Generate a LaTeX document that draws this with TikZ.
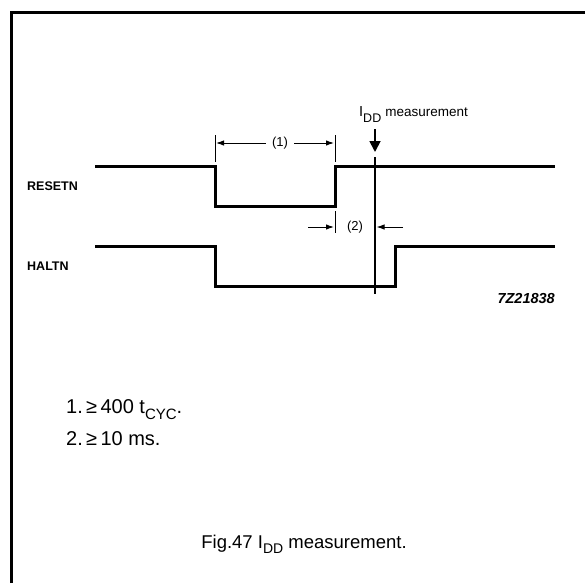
\documentclass[tikz,border=0pt]{standalone}
\usepackage{fontspec}
\setmainfont{Liberation Sans}
\usetikzlibrary{arrows.meta}
\tikzset{
  wave/.style={line width=3pt, line join=miter},
  dim/.style={line width=1pt, -{Latex[length=8pt,width=5.5pt]}},
  ext/.style={line width=0.9pt},
  sig/.style={font=\fontsize{12.5}{14}\selectfont\bfseries, anchor=base west, inner sep=0pt},
  note/.style={font=\fontsize{20}{24}\selectfont, anchor=base west, inner sep=0pt},
  lbl/.style={font=\fontsize{13}{15}\selectfont, inner sep=1pt}
}
\begin{document}
\begin{tikzpicture}[x=1pt,y=-1pt]
\useasboundingbox (0,0) rectangle (585,583);
% frame
\draw[line width=2.2pt] (11.5,583) -- (11.5,12.5) -- (585,12.5);
% waveforms
\draw[wave] (95,166) -- (215,166) -- (215,206) -- (335,206) -- (335,166) -- (555,166);
\draw[wave] (95,246) -- (215,246) -- (215,286) -- (395,286) -- (395,246) -- (555,246);
% labels
\node[sig] (rst) at (27,190) {RESETN};
\node[sig] (hlt) at (27,270) {HALTN};
% measurement line
\coordinate (mt) at (375,157);
\coordinate (mb) at (375,294);
\draw[line width=1.2pt] (mt) -- (mb);
% IDD arrow
\node[inner sep=0pt, anchor=base west] (idd) at (359,117)
  {\fontsize{14.5}{16}\selectfont I\raisebox{-0.4em}{\fontsize{12.5}{14}\selectfont DD} \fontsize{13.5}{15}\selectfont measurement};
\coordinate (at) at (375,129);
\coordinate (ah) at (375,152);
\draw[line width=1.8pt, -{Triangle[length=11pt,width=11pt]}] (at) -- (ah);
% dimension (1)
\coordinate (e1a) at (215,135); \coordinate (e1b) at (215,162);
\coordinate (e2a) at (335,135); \coordinate (e2b) at (335,162);
\draw[ext] (e1a) -- (e1b);
\draw[ext] (e2a) -- (e2b);
\node[lbl] (d1) at (280,143) {(1)};
\draw[dim] (d1.west) ++(-5,0) coordinate (d1l) -- (216,143);
\draw[dim] (d1.east) ++(5,0) coordinate (d1r) -- (334,143);
% dimension (2)
\coordinate (e3a) at (335,211); \coordinate (e3b) at (335,233);
\draw[ext] (e3a) -- (e3b);
\node[lbl] (d2) at (355,227) {(2)};
\coordinate (d2l) at (308,227);
\coordinate (d2r) at (403,227);
\draw[dim] (d2l) -- (334,227);
\draw[dim] (d2r) -- (376.5,227);
% code
\node[inner sep=0pt, anchor=base east, font=\fontsize{14.5}{16}\selectfont\bfseries\itshape] (code) at (555,303) {7Z21838};
% notes
\node[note] (n1) at (66,413) {1.\,≥\,400 t\raisebox{-0.3em}{\fontsize{15}{16}\selectfont CYC}.};
\node[note] (n2) at (66,445) {2.\,≥\,10 ms.};
\node[font=\fontsize{18.5}{22}\selectfont, anchor=base, inner sep=0pt] (fig) at (304,548)
  {Fig.47 I\raisebox{-0.3em}{\fontsize{14}{16}\selectfont DD} measurement.};
\end{tikzpicture}
\end{document}
